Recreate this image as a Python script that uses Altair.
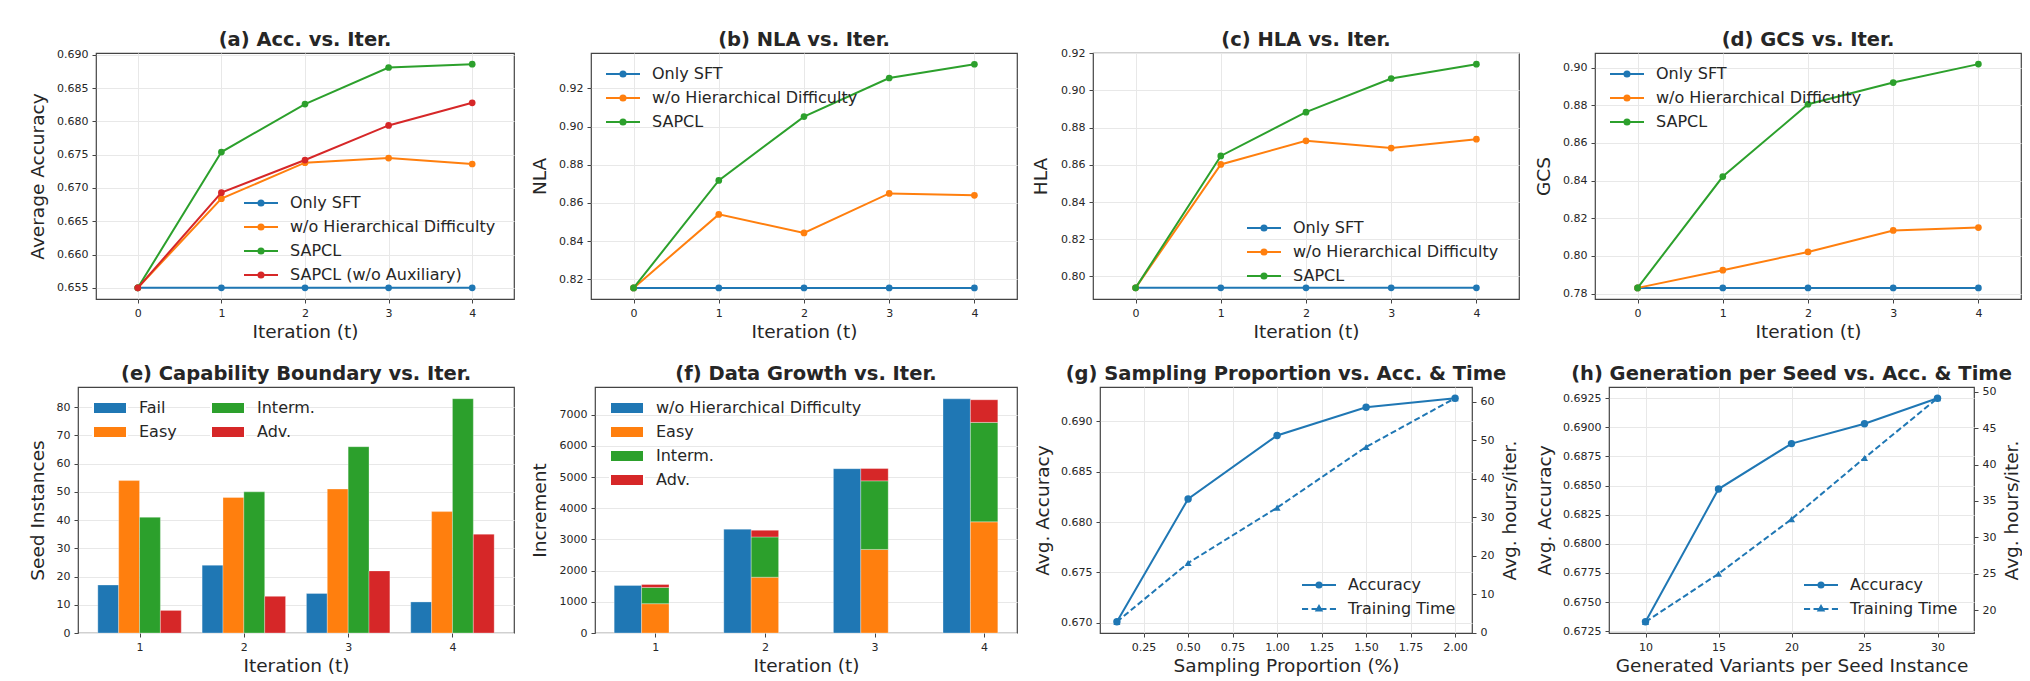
import altair as alt
import pandas as pd

FONT = "DejaVu Sans"
TXT = "#262626"
C = ["#1f77b4", "#ff7f0e", "#2ca02c", "#d62728"]

# ---------------- data ----------------
iters = [0, 1, 2, 3, 4]
series4 = ["Only SFT", "w/o Hierarchical Difficulty", "SAPCL", "SAPCL (w/o Auxiliary)"]
series3 = ["Only SFT", "w/o Hierarchical Difficulty", "SAPCL"]

acc_only_sft = [0.655, 0.655, 0.655, 0.655, 0.655]
acc_wo_hd = [0.655, 0.6684, 0.6738, 0.6745, 0.6736]
acc_sapcl = [0.655, 0.6754, 0.6826, 0.6881, 0.6886]
acc_sapcl_noaux = [0.655, 0.6693, 0.6742, 0.6794, 0.6828]

nla_only_sft = [0.8155, 0.8155, 0.8155, 0.8155, 0.8155]
nla_wo_hd = [0.8155, 0.8540, 0.8443, 0.8650, 0.8640]
nla_sapcl = [0.8155, 0.8718, 0.9052, 0.9254, 0.9326]

hla_only_sft = [0.7939, 0.7939, 0.7939, 0.7939, 0.7939]
hla_wo_hd = [0.7939, 0.8602, 0.8729, 0.8690, 0.8738]
hla_sapcl = [0.7939, 0.8648, 0.8883, 0.9064, 0.9141]

gcs_only_sft = [0.7830, 0.7830, 0.7830, 0.7830, 0.7830]
gcs_wo_hd = [0.7830, 0.7924, 0.8021, 0.8135, 0.8150]
gcs_sapcl = [0.7830, 0.8421, 0.8805, 0.8920, 0.9018]

bar_iters = [1, 2, 3, 4]
boundary_cats = ["Fail", "Easy", "Interm.", "Adv."]
boundary_fail = [17, 24, 14, 11]
boundary_easy = [54, 48, 51, 43]
boundary_interm = [41, 50, 66, 83]
boundary_adv = [8, 13, 22, 35]

growth_cats = ["w/o Hierarchical Difficulty", "Easy", "Interm.", "Adv."]
growth_wo_hd = [1525, 3330, 5270, 7510]
growth_easy = [940, 1790, 2680, 3565]
growth_interm = [520, 1290, 2200, 3190]
growth_adv = [95, 215, 395, 725]

samp_prop = [0.1, 0.5, 1.0, 1.5, 2.0]
samp_acc = [0.6701, 0.6823, 0.6886, 0.6914, 0.6923]
samp_time = [2.8, 18.1, 32.5, 48.3, 61.0]

gen_variants = [10, 15, 20, 25, 30]
gen_acc = [0.6733, 0.6847, 0.6886, 0.6903, 0.6925]
gen_time = [18.4, 25.0, 32.5, 40.9, 49.1]

dual_series = ["Accuracy", "Training Time"]

# ---------------- helpers ----------------
DOT = ("M-0.15,0A0.15,0.15,0,1,1,0.15,0A0.15,0.15,0,1,1,-0.15,0"
       "M-0.06,0A0.06,0.06,0,1,1,0.06,0A0.06,0.06,0,1,1,-0.06,0")
TRI = "M0,-0.17L0.147,0.085L-0.147,0.085ZM0,-0.08L0.07,0.04L-0.07,0.04Z"
LINE_DOT = "M-1,0H1" + DOT
DASH_TRI = "M-1,0H-0.64M-0.44,0H-0.08M0.08,0H0.44M0.64,0H1" + TRI
RECT = "M-1,-0.36H1V0.36H-1Z"

H = 246


def title(t, dy=0):
    return alt.Title(t, fontSize=19.5, fontWeight="bold", font=FONT, color=TXT,
                     anchor="middle", frame="group", offset=2.5, dy=dy)


def legend(lx, ly, sym, **kw):
    return alt.Legend(title=None, orient="none", legendX=lx, legendY=ly,
                      symbolType=sym, symbolSize=1156, symbolStrokeWidth=2,
                      clipHeight=18, rowPadding=6, labelFontSize=16, labelFont=FONT,
                      labelColor=TXT, labelOffset=11, labelLimit=0, padding=0,
                      symbolOpacity=1, **kw)


def line_panel(ttl, ytitle, series, values, width, ydomain, yticks, yfmt, lx, ly, ext, tpad, dy):
    rows = []
    for s, vals in zip(series, values):
        for i, v in zip(iters, vals):
            rows.append({"it": i, "v": v, "s": s})
    df = pd.DataFrame(rows)
    color = alt.Color("s:N", scale=alt.Scale(domain=series, range=C[:len(series)]),
                      legend=legend(lx, ly, LINE_DOT))
    x = alt.X("it:Q", scale=alt.Scale(domain=[-0.5, 4.5], nice=False, zero=False),
              axis=alt.Axis(values=iters, format="d", title="Iteration (t)"))
    y = alt.Y("v:Q", scale=alt.Scale(domain=ydomain, nice=False, zero=False),
              axis=alt.Axis(values=yticks, format=yfmt, title=ytitle,
                            minExtent=ext, maxExtent=ext, titlePadding=tpad))
    layers = []
    for s in series:
        base = alt.Chart(df).transform_filter(alt.datum.s == s).encode(x=x, y=y, color=color)
        layers.append(base.mark_line(strokeWidth=2))
        layers.append(base.mark_point(filled=True, size=45, opacity=1))
    return alt.layer(*layers).properties(width=width, height=H, title=title(ttl, dy))


def spacer(w):
    return alt.Chart(pd.DataFrame({"a": [0]})).mark_point(opacity=0, size=0).encode(
        x=alt.value(0), y=alt.value(H / 2)
    ).properties(width=w, height=H, view=alt.ViewBackground(stroke="transparent"))


# ---------------- row 1 ----------------
pa = line_panel("(a) Acc. vs. Iter.", "Average Accuracy", series4,
                [acc_only_sft, acc_wo_hd, acc_sapcl, acc_sapcl_noaux], 418,
                [0.65332, 0.69028], [0.655 + 0.005 * k for k in range(8)], ".3f",
                147, 141, 41, 8, 4.1)
pb = line_panel("(b) NLA vs. Iter.", "NLA", series3,
                [nla_only_sft, nla_wo_hd, nla_sapcl], 426,
                [0.8097, 0.9385], [0.82, 0.84, 0.86, 0.88, 0.90, 0.92], ".2f",
                14, 12, 34, 8, 0)
pc = line_panel("(c) HLA vs. Iter.", "HLA", series3,
                [hla_only_sft, hla_wo_hd, hla_sapcl], 426,
                [0.7879, 0.9201], [0.80, 0.82, 0.84, 0.86, 0.88, 0.90, 0.92], ".2f",
                153, 166, 34, 9, 5.8)
pd_ = line_panel("(d) GCS vs. Iter.", "GCS", series3,
                 [gcs_only_sft, gcs_wo_hd, gcs_sapcl], 426,
                 [0.7771, 0.9077], [0.78, 0.80, 0.82, 0.84, 0.86, 0.88, 0.90], ".2f",
                 14, 12, 35, 7, 0)

row1 = alt.hconcat(spacer(18), pa, spacer(77), pb, spacer(76), pc, spacer(76), pd_,
                   spacing=0, bounds="flush").resolve_scale(
    color="independent").resolve_legend(color="independent")

# ---------------- (e) ----------------
rows = []
for k, (cat, vals) in enumerate(zip(boundary_cats,
                                    [boundary_fail, boundary_easy, boundary_interm, boundary_adv])):
    for it, v in zip(bar_iters, vals):
        rows.append({"it": it, "cat": cat, "k": k, "v": v})
df_e = pd.DataFrame(rows)
pe = alt.Chart(df_e).transform_calculate(
    x0="datum.it - 0.4 + 0.2 * datum.k", x1="datum.it - 0.2 + 0.2 * datum.k", base="0"
).mark_bar(stroke="white", strokeWidth=0.5, strokeOpacity=0.6).encode(
    x=alt.X("x0:Q", scale=alt.Scale(domain=[0.41, 4.59], nice=False, zero=False),
            axis=alt.Axis(values=bar_iters, format="d", title="Iteration (t)", grid=False)),
    x2="x1:Q",
    y=alt.Y("v:Q", scale=alt.Scale(domain=[0, 87.15], nice=False),
            axis=alt.Axis(values=list(range(0, 90, 10)), title="Seed Instances",
                          minExtent=24, maxExtent=24, titlePadding=7)),
    y2="base:Q",
    color=alt.Color("cat:N", scale=alt.Scale(domain=boundary_cats, range=C),
                    legend=legend(14, 12, RECT, columns=2, columnPadding=33)),
).properties(width=436, height=H, title=title("(e) Capability Boundary vs. Iter."))

# ---------------- (f) ----------------
rows = []
for k, (cat, vals) in enumerate(zip(growth_cats,
                                    [growth_wo_hd, growth_easy, growth_interm, growth_adv])):
    for it, v in zip(bar_iters, vals):
        rows.append({"it": it, "cat": cat, "k": k, "grp": "wo" if k == 0 else "sapcl", "v": v})
df_f = pd.DataFrame(rows)
pf = alt.Chart(df_f).transform_stack(
    stack="v", groupby=["it", "grp"], as_=["y0", "y1"], sort=[alt.SortField("k")]
).transform_calculate(
    x0="datum.grp == 'wo' ? datum.it - 0.375 : datum.it - 0.125",
    x1="datum.grp == 'wo' ? datum.it - 0.125 : datum.it + 0.125",
).mark_bar(stroke="white", strokeWidth=0.5, strokeOpacity=0.6).encode(
    x=alt.X("x0:Q", scale=alt.Scale(domain=[0.45, 4.30], nice=False, zero=False),
            axis=alt.Axis(values=bar_iters, format="d", title="Iteration (t)", grid=False)),
    x2="x1:Q",
    y=alt.Y("y0:Q", scale=alt.Scale(domain=[0, 7890], nice=False),
            axis=alt.Axis(values=list(range(0, 8000, 1000)), format="d", title="Increment",
                          minExtent=38, maxExtent=38, titlePadding=8)),
    y2="y1:Q",
    color=alt.Color("cat:N", scale=alt.Scale(domain=growth_cats, range=C),
                    legend=legend(14, 12, RECT)),
).properties(width=422, height=H, title=title("(f) Data Growth vs. Iter."))


# ---------------- (g), (h) ----------------
def dual_panel(ttl, xs, acc, tm, width, xdomain, xticks, xfmt, xtitle,
               ldomain, lticks, lfmt, rdomain, rticks, lx, ly, ext, tpad, rext, rpad, dy):
    df = pd.DataFrame({"x": xs, "acc": acc, "time": tm})
    x = alt.X("x:Q", scale=alt.Scale(domain=xdomain, nice=False, zero=False),
              axis=alt.Axis(values=xticks, format=xfmt, title=xtitle))
    yl = alt.Y("acc:Q", scale=alt.Scale(domain=ldomain, nice=False, zero=False),
               axis=alt.Axis(values=lticks, format=lfmt, title="Avg. Accuracy", orient="left",
                             minExtent=ext, maxExtent=ext, titlePadding=tpad))
    yr = alt.Y("time:Q", scale=alt.Scale(domain=rdomain, nice=False, zero=False),
               axis=alt.Axis(values=rticks, format="d", title="Avg. hours/iter.", orient="right",
                             grid=False, titleAngle=270, titleBaseline="top",
                             minExtent=rext, maxExtent=rext, titlePadding=rpad))
    base = alt.Chart(df)
    # invisible helper layer that only carries the legend
    leg = base.transform_calculate(s="'Accuracy'").mark_point(
        opacity=0, color=C[0], strokeWidth=2).encode(
        x=x, y=yl,
        shape=alt.Shape("s:N", scale=alt.Scale(domain=dual_series, range=[LINE_DOT, DASH_TRI]),
                        legend=legend(lx, ly, LINE_DOT, symbolStrokeColor=C[0])))
    left = alt.layer(
        base.mark_line(color=C[0], strokeWidth=2).encode(x=x, y=yl),
        base.mark_point(filled=True, color=C[0], size=55, opacity=1).encode(x=x, y=yl),
        leg,
    )
    right = alt.layer(
        base.mark_line(color=C[0], strokeWidth=2, strokeDash=[6, 3]).encode(x=x, y=yr),
        base.mark_point(filled=True, color=C[0], size=50, opacity=1,
                        shape="triangle-up").encode(x=x, y=yr),
    )
    return alt.layer(left, right).resolve_scale(y="independent").properties(
        width=width, height=H, title=title(ttl, dy))


pg = dual_panel("(g) Sampling Proportion vs. Acc. & Time", samp_prop, samp_acc, samp_time, 372,
                [0.005, 2.095], [0.25, 0.5, 0.75, 1.0, 1.25, 1.5, 1.75, 2.0], ".2f",
                "Sampling Proportion (%)",
                [0.66899, 0.69341], [0.670, 0.675, 0.680, 0.685, 0.690], ".3f",
                [-0.11, 63.9], [0, 10, 20, 30, 40, 50, 60],
                201, 189, 41, 7, 23, 5, 0)
ph = dual_panel("(h) Generation per Seed vs. Acc. & Time", gen_variants, gen_acc, gen_time, 365,
                [7.5, 32.5], [10, 15, 20, 25, 30], "d",
                "Generated Variants per Seed Instance",
                [0.67234, 0.69346], [0.6725 + 0.0025 * k for k in range(9)], ".4f",
                [16.87, 50.64], [20, 25, 30, 35, 40, 45, 50],
                194, 189, 48, 7, 23, 5, 1.3)

row2 = alt.hconcat(pe, spacer(81), pf, spacer(83), pg, spacer(137), ph,
                   spacing=0, bounds="flush").resolve_scale(
    color="independent", shape="independent").resolve_legend(
    color="independent", shape="independent")

chart = alt.vconcat(row1, row2, spacing=21).resolve_scale(
    color="independent", shape="independent").resolve_legend(
    color="independent", shape="independent").properties(
    padding={"left": 19, "top": 21, "right": 0, "bottom": 0},
    background="white",
).configure(font=FONT).configure_view(
    stroke="#444", strokeWidth=1.2
).configure_axis(
    labelFont=FONT, labelFontSize=11, labelColor=TXT,
    titleFont=FONT, titleFontSize=18.5, titleFontWeight="normal", titleColor=TXT,
    tickColor="#444", tickSize=4, tickWidth=1, labelPadding=4,
    domain=False, gridColor="#e8e8e8", gridWidth=1,
    labelFlush=False, labelOverlap=False, labelBound=False,
).configure_axisX(titlePadding=4, labelAngle=0)

chart.save("out.html", embed_options={"renderer": "svg", "actions": False})
